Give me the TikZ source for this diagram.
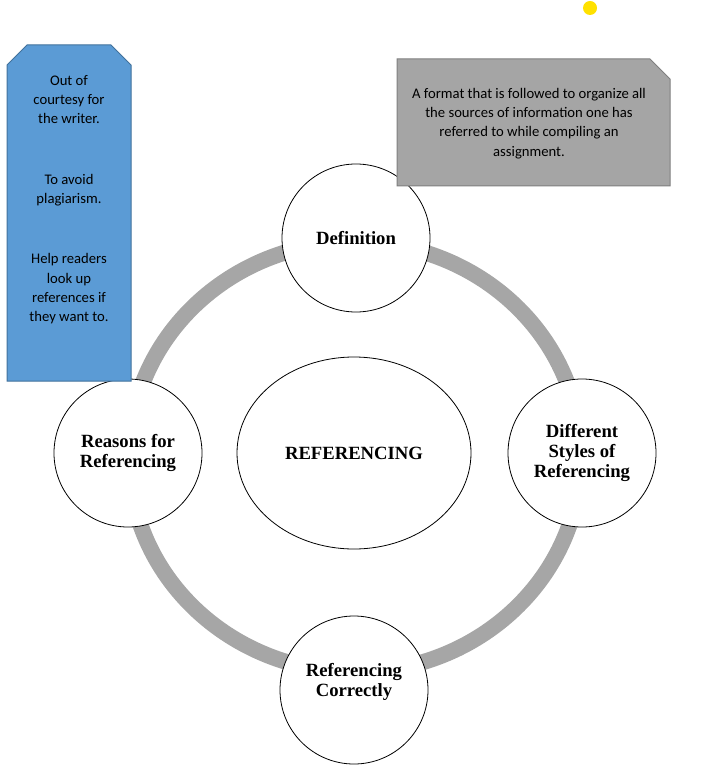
\documentclass[tikz,border=0pt]{standalone}
\usepackage{fontspec}
\setmainfont{Liberation Serif}
\newfontfamily\calibri{Carlito}
\usetikzlibrary{positioning,shapes.geometric}

\definecolor{boxblue}{HTML}{5B9BD5}
\definecolor{boxblueline}{HTML}{41719C}
\definecolor{boxgray}{HTML}{A5A5A5}
\definecolor{boxgrayline}{HTML}{7F7F7F}
\definecolor{ringgray}{HTML}{A6A6A6}
\definecolor{dotyellow}{HTML}{FFE100}

\begin{document}
\begin{tikzpicture}[
  x=0.75pt, y=-0.75pt,
  topic/.style={circle, draw, fill=white, line width=0.6pt, minimum size=111pt, inner sep=0pt, align=center, font=\fontsize{14}{15}\selectfont\bfseries},
  hub/.style={ellipse, draw, fill=white, line width=0.6pt, minimum width=175.5pt, minimum height=144pt, inner sep=0pt, font=\fontsize{14}{15}\selectfont\bfseries},
  note/.style={align=center, inner sep=0pt, font=\calibri\fontsize{11}{14.4}\selectfont}
]
  \useasboundingbox (0,0) rectangle (706,773);

  % grey ring behind the four topics
  \draw[ringgray, line width=12pt] (355,457) ellipse [x radius=226, y radius=215];

  % centre and topics
  \node[hub]   (ref)     at (354,453) {REFERENCING};
  \node[topic] (def)     at (356,238) {Definition};
  \node[topic] (styles)  at (582,453) {Different\\Styles of\\Referencing};
  \node[topic, text depth=15pt] (correct) at (354,690) {Referencing\\Correctly};
  \node[topic] (reasons) at (128,453) {Reasons for\\Referencing};

  % callout boxes
  \draw[fill=boxblue, draw=boxblueline, line width=0.75pt]
    (7,65) -- (27,45) -- (111,45) -- (131,65) -- (131,381) -- (7,381) -- cycle;
  \draw[fill=boxgray, draw=boxgrayline, line width=0.75pt]
    (397,59) -- (650,59) -- (670,79) -- (670,186) -- (397,186) -- cycle;

  \node[note, anchor=north] (reasonsnote) at (69,75)
    {Out of\\courtesy for\\the writer.\\[31pt]To avoid\\plagiarism.\\[31pt]Help readers\\look up\\references if\\they want to.};
  \node[note, anchor=north] (defnote) at (529,88)
    {A format that is followed to organize all\\the sources of information one has\\referred to while compiling an\\assignment.};

  % yellow dot
  \node[circle, fill=dotyellow, minimum size=10.5pt, inner sep=0pt] (dot) at (590,8) {};
\end{tikzpicture}
\end{document}
